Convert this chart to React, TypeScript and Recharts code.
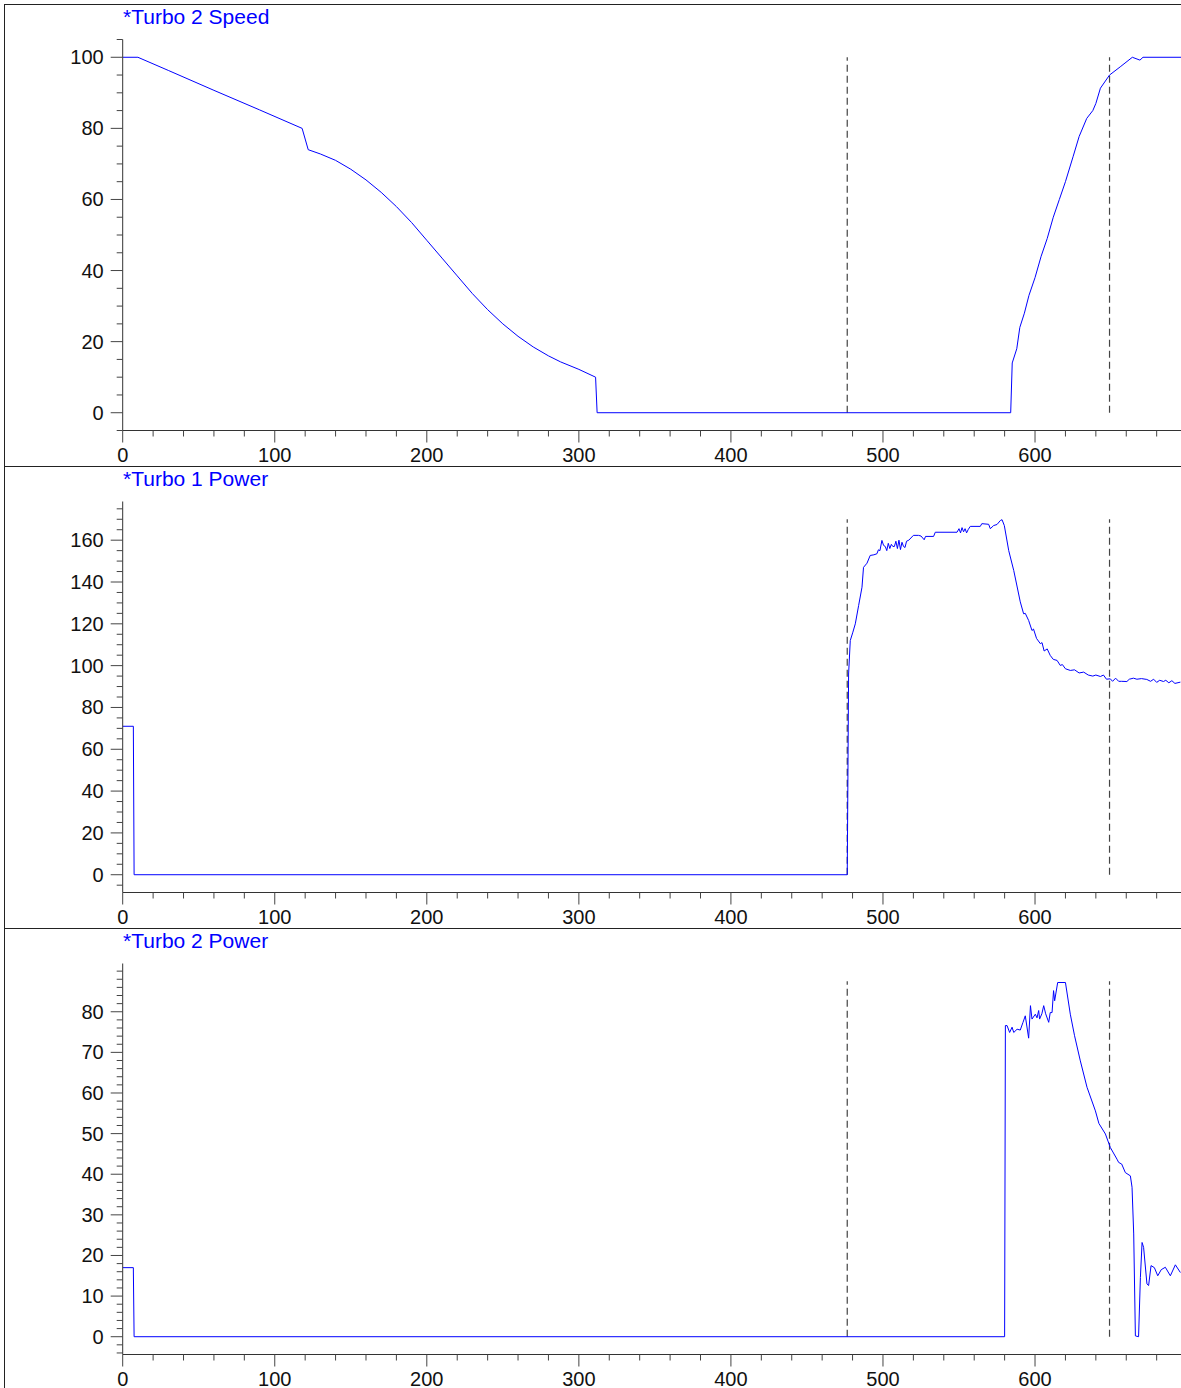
import React from 'react';
import { LineChart, Line, XAxis, YAxis, ReferenceLine } from 'recharts';

// ---- Turbo 2 Speed ----
const speedX = [0, 10, 30, 60, 90, 118, 120, 122, 130, 140, 150, 160, 170, 180, 190, 200, 210, 220, 230, 240, 250, 260, 270, 280, 288, 300, 311, 312, 584, 585, 588, 590, 593, 596, 600, 604, 608, 612, 616, 620, 625, 629, 634, 638, 640, 643, 649, 656, 664, 669, 671, 696];
const speedY = [100, 100, 96.3, 90.7, 85.2, 80, 77, 74, 72.8, 71, 68.5, 65.5, 62, 58, 53.5, 48.5, 43.5, 38.5, 33.5, 29, 25, 21.5, 18.5, 16, 14.3, 12.2, 10, 0, 0, 14, 18, 24, 28, 33, 38, 44, 49, 55, 60, 65, 72, 77.7, 82.8, 85, 87, 91.3, 95, 97.3, 100, 99.2, 100, 100];

// ---- Turbo 1 Power ----
const power1X = [0, 7, 7.5, 476.5, 477.4, 478.5, 480.2, 481.8, 484, 486.2, 487.2, 489.5, 491.6, 494, 496, 497, 498, 499.3, 500.4, 501.5, 502.5, 503.5, 504.5, 505.5, 506.5, 507.5, 508.5, 509.5, 510.5, 511.5, 512.5, 513.5, 514.5, 515.5, 517, 520, 523.4, 525, 527.1, 528, 533.3, 534.4, 548.7, 550, 551, 552, 553, 554, 555, 556, 557.4, 564, 565, 569.5, 570.6, 572.8, 575, 577.2, 578.3, 579.8, 582.7, 586, 590.3, 592.5, 593.6, 595.8, 598, 599, 601, 603.5, 604.6, 606, 608, 610, 612, 614.5, 616.6, 618, 620, 623.2, 626, 629, 632, 635, 638, 640, 643, 645, 647, 649.5, 651, 653, 655, 657, 660.4, 662, 664.7, 667, 670, 673.5, 676, 678, 680, 682, 684.5, 686, 688, 690, 692, 695.6];
const power1Y = [71, 71, 0, 0, 96, 112, 116, 120, 128.8, 137.5, 147, 149, 152.7, 153, 153.5, 155.4, 155, 159.9, 157.5, 157, 155, 158.5, 156, 158, 157, 157, 159.5, 156, 160, 155.5, 159, 157, 156.5, 159.5, 160, 162.3, 162.3, 162, 160.2, 161.8, 161.8, 163.8, 163.8, 165.5, 163.5, 166, 164, 165.5, 163.5, 165, 166.6, 166.6, 167.9, 167.6, 165.5, 167, 167.5, 169.4, 169.8, 167, 155, 145.5, 130.5, 124.8, 125, 121.6, 116.8, 117.5, 113, 110.5, 111, 107, 108, 104.9, 103, 102.5, 100.1, 100.5, 98.5, 97.7, 98, 96.5, 96.9, 95.5, 95, 95.5, 94.8, 95.5, 93.5, 93.7, 92.5, 94, 92.5, 92.5, 92.4, 93.5, 94, 93.5, 93.8, 93.4, 92.5, 93.5, 92, 93, 92.4, 93, 91.8, 92.8, 91.5, 92.1];

// ---- Turbo 2 Power ----
const power2X = [0, 7, 7.5, 580, 580.5, 581.6, 583.3, 584.9, 586, 588.2, 590.3, 592.1, 593.6, 595.8, 597, 598, 600.2, 601.3, 602.4, 603, 604.5, 605.7, 607, 609, 610, 611.2, 612.2, 612.9, 614.9, 620, 623.2, 626, 629.8, 634.2, 636, 639.7, 642, 646.3, 649.5, 653.9, 655, 657, 659.4, 662.7, 663.8, 664.9, 666, 668.1, 669.3, 670.4, 671.4, 673.6, 674.7, 676.3, 678.5, 680.7, 683, 685.7, 689, 692.3, 695.6];
const power2Y = [17, 17, 0, 0, 76.6, 76.6, 74.9, 76.2, 74.9, 75.7, 75.5, 77.4, 79, 73.5, 81.5, 78.2, 79.4, 78.5, 80.3, 78.2, 79.5, 81.5, 79.5, 77.4, 79.8, 79.8, 85.2, 82.7, 87.2, 87.2, 79.4, 74.1, 67.9, 61.4, 59.5, 55.6, 52.5, 49.9, 46.6, 43.7, 42.9, 42.5, 40.4, 39.6, 36.8, 25.3, 0.2, 0, 14.6, 23.2, 22, 13, 12.6, 17.5, 17, 15, 16.5, 17.1, 15, 17.7, 15.8];

// ---- axes / markers ----
const xDomain: [number, number] = [0, 696];
const xLabelTicks = [0, 100, 200, 300, 400, 500, 600];
const xMinorStep = 20;
const markerTimes = [476.5, 649];

const speedLabelTicks = [0, 20, 40, 60, 80, 100];
const power1LabelTicks = [0, 20, 40, 60, 80, 100, 120, 140, 160];
const power2LabelTicks = [0, 10, 20, 30, 40, 50, 60, 70, 80];

const FONT = '"Liberation Sans", Arial, sans-serif';
const TICK_COLOR = '#444';
const AXIS_COLOR = '#333';

function range(a: number, b: number, s: number) {
  const r: number[] = [];
  for (let v = a; v <= b + 1e-9; v += s) r.push(Math.round(v * 1000) / 1000);
  return r;
}

const xTicks = range(0, 680, xMinorStep);

const XTick = (props: any) => {
  const { x, y, payload } = props;
  const v = payload.value;
  const major = xLabelTicks.includes(v);
  return (
    <g>
      <line x1={x} x2={x} y1={y} y2={y + (major ? 12 : 6)} stroke={TICK_COLOR} strokeWidth={1} />
      {major && (
        <text x={x} y={y + 31} textAnchor="middle" fontSize={20} fontFamily={FONT} fill="#111">
          {v}
        </text>
      )}
    </g>
  );
};

const makeYTick = (labels: number[]) => (props: any) => {
  const { x, y, payload } = props;
  const v = payload.value;
  const major = labels.includes(v);
  return (
    <g>
      <line x1={x - (major ? 12 : 6)} x2={x} y1={y} y2={y} stroke={TICK_COLOR} strokeWidth={1} />
      {major && (
        <text x={x - 19} y={y + 7} textAnchor="end" fontSize={20} fontFamily={FONT} fill="#111">
          {v}
        </text>
      )}
    </g>
  );
};

type PanelProps = {
  top: number;
  title: string;
  xs: number[];
  ys: number[];
  domain: [number, number];
  labels: number[];
  minorStep: number;
  markerTop: number;
};

function Panel({ top, title, xs, ys, domain, labels, minorStep, markerTop }: PanelProps) {
  const data = xs.map((x, i) => ({ x, v: ys[i] }));
  const yTicks = range(Math.ceil(domain[0] / minorStep) * minorStep, Math.floor(domain[1] / minorStep) * minorStep, minorStep);
  return (
    <div style={{ position: 'absolute', left: 0, top, width: 1181, height: 462 }}>
      <LineChart width={1181} height={462} data={data} margin={{ top: 35.5, right: 0, bottom: 0, left: 0 }}>
        <XAxis
          type="number"
          dataKey="x"
          domain={xDomain}
          ticks={xTicks}
          interval={0}
          height={35.5}
          tickSize={0}
          tickMargin={0}
          tickLine={false}
          axisLine={{ stroke: AXIS_COLOR }}
          tick={XTick}
          allowDataOverflow
        />
        <YAxis
          type="number"
          domain={domain}
          ticks={yTicks}
          interval={0}
          width={122.7}
          tickSize={0}
          tickMargin={0}
          tickLine={false}
          axisLine={{ stroke: AXIS_COLOR }}
          tick={makeYTick(labels)}
          allowDataOverflow
        />
        {markerTimes.map((t) => (
          <ReferenceLine
            key={t}
            segment={[{ x: t, y: 0 }, { x: t, y: markerTop }]}
            stroke="#444"
            strokeWidth={1.2}
            strokeDasharray="7 4"
          />
        ))}
        <Line type="linear" dataKey="v" stroke="#0000ff" strokeWidth={1} dot={false} isAnimationActive={false} />
      </LineChart>
      <div
        style={{
          position: 'absolute',
          left: 123,
          top: 2.2,
          color: '#0000ff',
          fontFamily: FONT,
          fontSize: 21,
          lineHeight: '21px',
          whiteSpace: 'nowrap',
        }}
      >
        {title}
      </div>
    </div>
  );
}

export default function App() {
  return (
    <div style={{ position: 'absolute', left: 0, top: 0, width: 1181, height: 1388, overflow: 'hidden', background: '#fff' }}>
      <Panel top={4} title="*Turbo 2 Speed" xs={speedX} ys={speedY} domain={[-5, 105]} labels={speedLabelTicks} minorStep={5} markerTop={100} />
      <Panel top={466} title="*Turbo 1 Power" xs={power1X} ys={power1Y} domain={[-8.5, 178.5]} labels={power1LabelTicks} minorStep={5} markerTop={170} />
      <Panel top={928} title="*Turbo 2 Power" xs={power2X} ys={power2Y} domain={[-4.38, 91.88]} labels={power2LabelTicks} minorStep={2} markerTop={87.5} />
      <div style={{ position: 'absolute', left: 4, top: 4, width: 1, height: 1384, background: '#222' }} />
      <div style={{ position: 'absolute', left: 4, top: 4, width: 1177, height: 1, background: '#222' }} />
      <div style={{ position: 'absolute', left: 4, top: 466, width: 1177, height: 1, background: '#222' }} />
      <div style={{ position: 'absolute', left: 4, top: 928, width: 1177, height: 1, background: '#222' }} />
    </div>
  );
}
